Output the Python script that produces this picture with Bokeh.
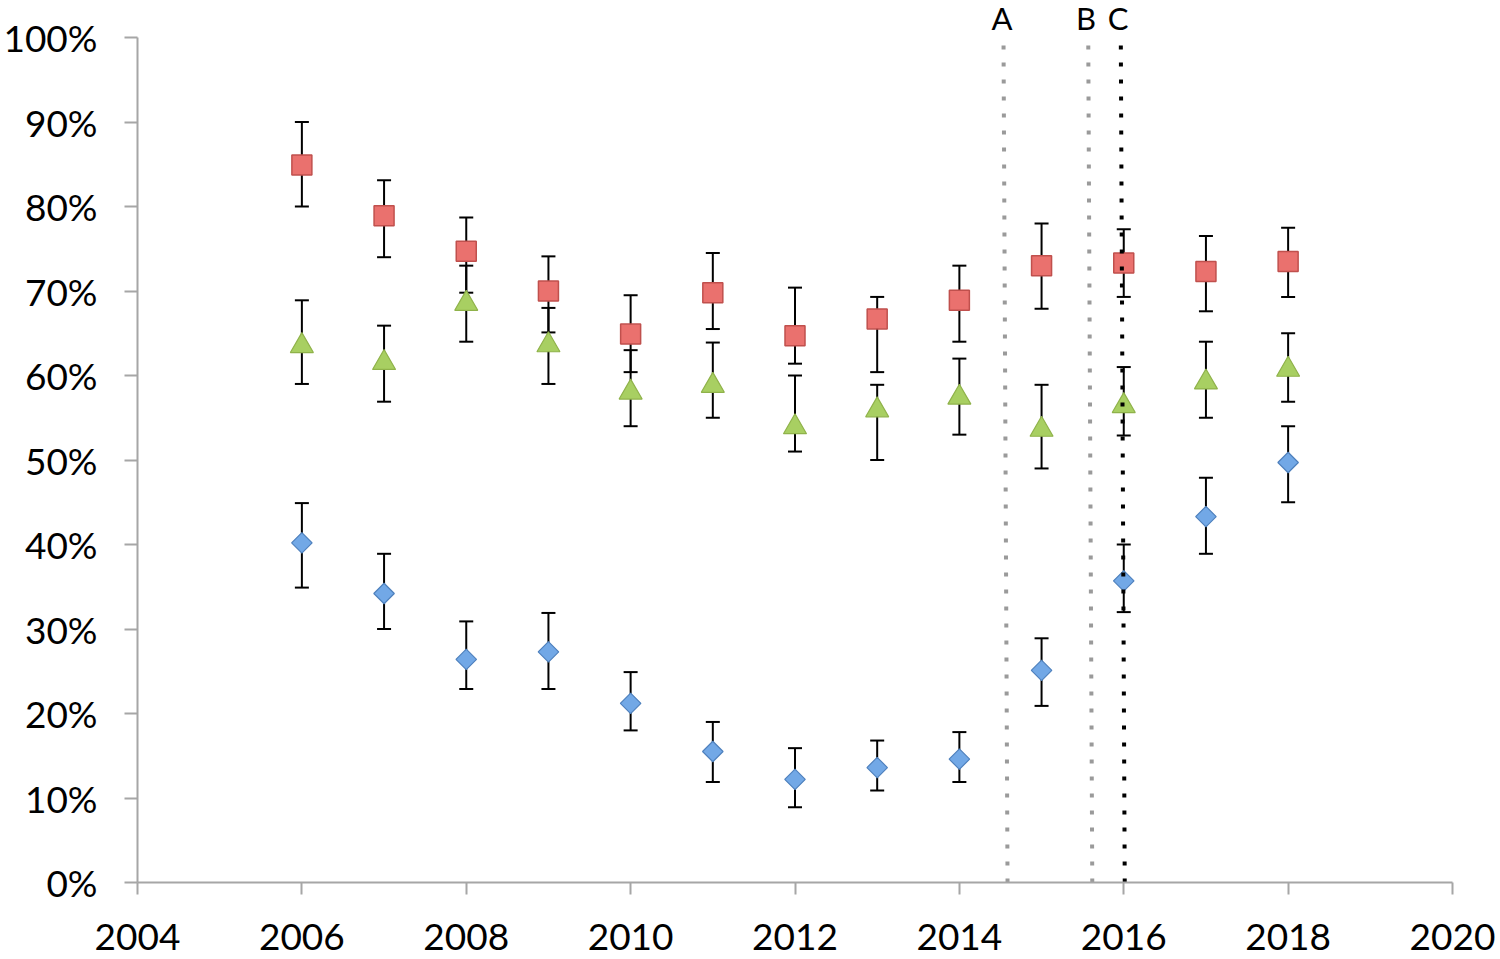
import math
from bokeh.plotting import figure
from bokeh.models import (ColumnDataSource, Whisker, TeeHead, Label,
                          NumeralTickFormatter, FixedTicker, Range1d)
from bokeh.embed import file_html
from bokeh.resources import INLINE

# ---------------- data ----------------
years = [2006, 2007, 2008, 2009, 2010, 2011, 2012, 2013, 2014, 2015, 2016, 2017, 2018]

red_val = [0.849, 0.789, 0.747, 0.700, 0.649, 0.698, 0.647, 0.667, 0.689, 0.730, 0.733, 0.723, 0.735]
red_up  = [0.900, 0.831, 0.787, 0.741, 0.695, 0.745, 0.704, 0.693, 0.730, 0.780, 0.773, 0.765, 0.775]
red_lo  = [0.800, 0.740, 0.698, 0.651, 0.604, 0.655, 0.614, 0.604, 0.640, 0.679, 0.693, 0.676, 0.693]

green_val = [0.635, 0.615, 0.685, 0.636, 0.580, 0.588, 0.539, 0.559, 0.574, 0.536, 0.564, 0.592, 0.607]
green_up  = [0.689, 0.659, 0.730, 0.680, 0.630, 0.639, 0.600, 0.589, 0.620, 0.589, 0.610, 0.640, 0.650]
green_lo  = [0.590, 0.569, 0.640, 0.590, 0.540, 0.550, 0.510, 0.500, 0.530, 0.490, 0.529, 0.550, 0.569]

blue_val = [0.402, 0.342, 0.264, 0.273, 0.212, 0.155, 0.122, 0.136, 0.146, 0.251, 0.357, 0.433, 0.497]
blue_up  = [0.449, 0.389, 0.309, 0.319, 0.249, 0.190, 0.159, 0.168, 0.178, 0.289, 0.400, 0.479, 0.540]
blue_lo  = [0.349, 0.300, 0.229, 0.229, 0.180, 0.119, 0.089, 0.109, 0.119, 0.209, 0.320, 0.389, 0.450]

event_labels = ["A", "B", "C"]
event_label_x = [2014.52, 2015.54, 2015.93]
event_x_top = [2014.537, 2015.568, 2015.964]
event_x_bottom = [2014.586, 2015.617, 2016.012]
event_colors = ["#9a9a9a", "#9a9a9a", "#000000"]

x_ticks = [2004, 2006, 2008, 2010, 2012, 2014, 2016, 2018, 2020]
y_ticks = [0.0, 0.1, 0.2, 0.3, 0.4, 0.5, 0.6, 0.7, 0.8, 0.9, 1.0]

# ---------------- figure ----------------
FONT = "Lato"
p = figure(width=1496, height=957, output_backend="svg", toolbar_location=None,
           x_range=Range1d(2004, 2020), y_range=Range1d(0, 1.0438),
           min_border_left=134, min_border_top=0, min_border_right=44,
           min_border_bottom=75)
p.outline_line_color = None
p.grid.visible = False
p.background_fill_color = "white"
p.border_fill_color = "white"

for ax in (p.xaxis, p.yaxis):
    ax.axis_line_color = "#a6a6a6"
    ax.axis_line_width = 2
    ax.major_tick_line_color = "#a6a6a6"
    ax.major_tick_line_width = 2
    ax.major_tick_in = 0
    ax.minor_tick_line_color = None
    ax.major_label_text_font = FONT
    ax.major_label_text_color = "black"

p.xaxis.ticker = FixedTicker(ticks=x_ticks)
p.xaxis.major_tick_out = 12
p.xaxis.major_label_standoff = 29
p.xaxis.major_label_text_font_size = "37px"

p.yaxis.ticker = FixedTicker(ticks=y_ticks)
p.yaxis.formatter = NumeralTickFormatter(format="0%")
p.yaxis.major_tick_out = 13
p.yaxis.major_label_standoff = 27
p.yaxis.major_label_text_font_size = "37px"
p.yaxis.bounds = (0, 1.0)

# ---------------- error bars ----------------
def add_errors(vals_up, vals_lo):
    src = ColumnDataSource(dict(x=years, upper=vals_up, lower=vals_lo))
    w = Whisker(source=src, base="x", upper="upper", lower="lower",
                line_color="black", line_width=2, level="underlay",
                upper_head=TeeHead(size=14, line_color="black", line_width=2),
                lower_head=TeeHead(size=14, line_color="black", line_width=2))
    p.add_layout(w)

add_errors(red_up, red_lo)
add_errors(green_up, green_lo)
add_errors(blue_up, blue_lo)

# ---------------- markers ----------------
p.scatter(years, red_val, marker="square", size=20,
          fill_color="#ea716e", line_color="#c0504d", line_width=1.5)
p.scatter(years, green_val, marker="triangle", size=23,
          fill_color="#a8cf62", line_color="#8fb24a", line_width=1.2)
p.scatter(years, blue_val, marker="square", angle=math.pi / 4, size=14.5,
          fill_color="#72a8e6", line_color="#4f81bd", line_width=1.2)

# ---------------- event lines ----------------
p.segment(x0=event_x_bottom, y0=[0, 0, 0], x1=event_x_top, y1=[1.0, 1.0, 1.0],
          line_color=event_colors, line_width=4, line_dash="4 13")

for lab, xl in zip(event_labels, event_label_x):
    p.add_layout(Label(x=xl, y=1.0, text=lab, text_align="center",
                       text_baseline="alphabetic", y_offset=20,
                       text_font=FONT, text_font_size="31px", text_color="black"))

open("out.html", "w").write(file_html(p, INLINE))
